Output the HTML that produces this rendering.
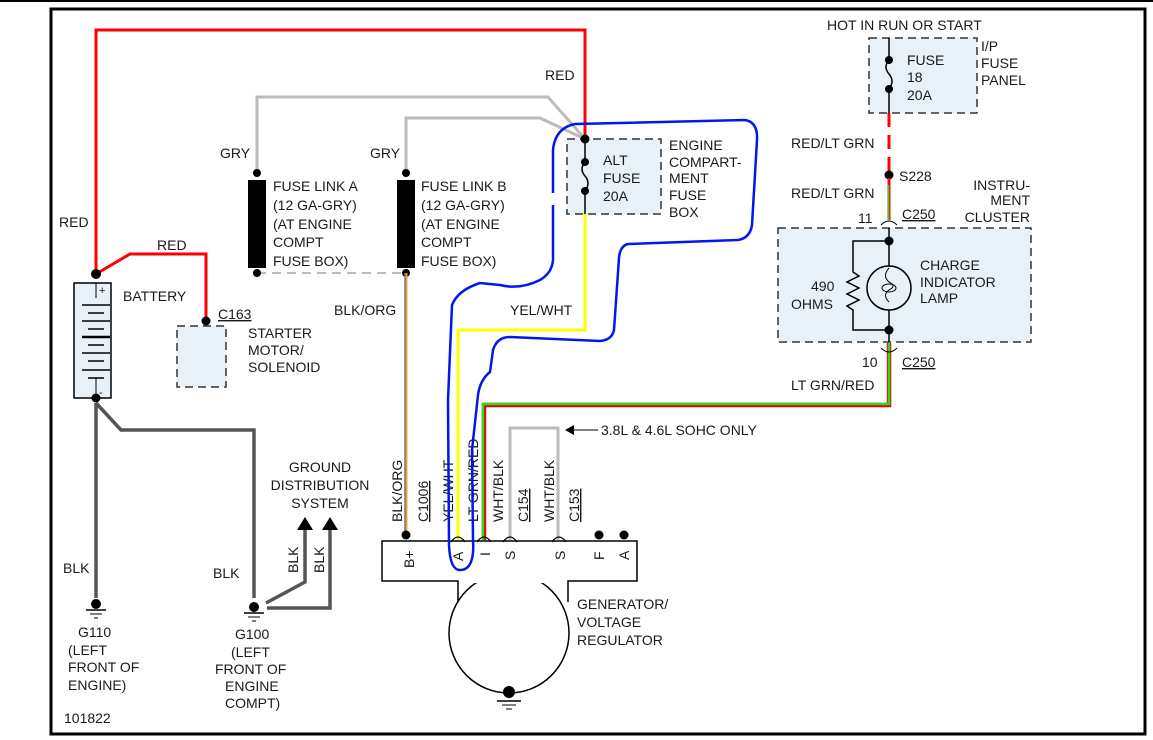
<!DOCTYPE html>
<html><head><meta charset="utf-8"><style>
html,body{margin:0;padding:0;background:#fff;}
svg{display:block;}
text{font-family:"Liberation Sans",sans-serif;font-size:14px;fill:#1a1a1a;}
</style></head><body>
<svg width="1153" height="740" viewBox="0 0 1153 740" xmlns="http://www.w3.org/2000/svg">
<rect x="0" y="0" width="1153" height="740" fill="#fff"/>
<line x1="0" y1="1" x2="1153" y2="1" stroke="#000" stroke-width="2"/>
<rect x="51" y="9" width="1094" height="725" fill="none" stroke="#000" stroke-width="3"/>

<!-- Red wires -->
<polyline points="96,274 96,30 585,30 585,139" fill="none" stroke="#f00" stroke-width="3"/>
<polyline points="96,274 130,254 206,254 206,320" fill="none" stroke="#f00" stroke-width="3"/>
<text x="545" y="80">RED</text>
<text x="59" y="227">RED</text>
<text x="157" y="250">RED</text>

<!-- Gray wires -->
<polyline points="257,173 257,97 548,97 585,139" fill="none" stroke="#bbb" stroke-width="3"/>
<polyline points="406,173 406,118 540,118 585,139" fill="none" stroke="#bbb" stroke-width="3"/>
<line x1="257" y1="273" x2="406" y2="273" stroke="#bbb" stroke-width="2" stroke-dasharray="9,6"/>
<text x="220" y="158">GRY</text>
<text x="370" y="158">GRY</text>

<!-- fuse links -->
<rect x="248" y="180" width="18" height="88" fill="#000"/>
<rect x="397" y="180" width="18" height="88" fill="#000"/>
<circle cx="257" cy="173" r="4" fill="#000"/><circle cx="257" cy="273" r="4" fill="#000"/>
<circle cx="406" cy="173" r="4" fill="#000"/><circle cx="406" cy="273" r="4" fill="#000"/>
<text x="273" y="191">FUSE LINK A</text><text x="273" y="210">(12 GA-GRY)</text><text x="273" y="229">(AT ENGINE</text><text x="273" y="247">COMPT</text><text x="273" y="266">FUSE BOX)</text>
<text x="421" y="191">FUSE LINK B</text><text x="421" y="210">(12 GA-GRY)</text><text x="421" y="229">(AT ENGINE</text><text x="421" y="247">COMPT</text><text x="421" y="266">FUSE BOX)</text>

<!-- BLK/ORG -->
<line x1="406" y1="273" x2="406" y2="537" stroke="#f0a040" stroke-width="3"/>
<line x1="405" y1="273" x2="405" y2="537" stroke="#777" stroke-width="1.5"/>
<text x="334" y="315">BLK/ORG</text>

<!-- battery -->
<rect x="74" y="283" width="37" height="115" fill="#e8f1f8" stroke="#000" stroke-width="1.5"/>
<line x1="96" y1="283" x2="96" y2="298" stroke="#000"/>
<g stroke="#000" stroke-width="1.5">
<line x1="82" y1="305" x2="110" y2="305"/><line x1="88" y1="313" x2="104" y2="313"/>
<line x1="82" y1="321" x2="110" y2="321"/><line x1="88" y1="329" x2="104" y2="329"/>
<line x1="82" y1="337" x2="110" y2="337" stroke-width="2.5"/><line x1="88" y1="345" x2="104" y2="345"/>
<line x1="82" y1="353" x2="110" y2="353"/><line x1="88" y1="361" x2="104" y2="361"/>
<line x1="82" y1="370" x2="110" y2="370"/><line x1="88" y1="378" x2="104" y2="378"/>
</g>
<line x1="96" y1="378" x2="96" y2="398" stroke="#000"/>
<text x="99" y="294" style="font-size:11px">+</text><text x="99" y="396" style="font-size:11px">-</text>
<circle cx="96" cy="274" r="5" fill="#000"/>
<text x="123" y="301">BATTERY</text>

<!-- starter -->
<rect x="177" y="326" width="49" height="61" fill="#e8f1f8" stroke="#333" stroke-width="1.5" stroke-dasharray="8,5"/>
<circle cx="206" cy="321" r="4.5" fill="#000"/>
<text x="218" y="319" text-decoration="underline">C163</text>
<text x="248" y="338">STARTER</text><text x="248" y="355">MOTOR/</text><text x="248" y="372">SOLENOID</text>

<!-- alt fuse box -->
<rect x="567" y="139" width="94" height="75" fill="#e8f1f8" stroke="#333" stroke-width="1.5" stroke-dasharray="8,5"/>
<line x1="585" y1="139" x2="585" y2="162" stroke="#000" stroke-width="1.5"/>
<path d="M585,162 q-6,7 0,14 q6,7 0,15" fill="none" stroke="#000" stroke-width="1.5"/>
<line x1="585" y1="191" x2="585" y2="214" stroke="#000" stroke-width="1.5"/>
<circle cx="585" cy="139" r="4.5" fill="#000"/><circle cx="585" cy="162" r="4" fill="#000"/><circle cx="585" cy="191" r="4" fill="#000"/>
<text x="603" y="165">ALT</text><text x="603" y="183">FUSE</text><text x="603" y="201">20A</text>
<text x="669" y="150">ENGINE</text><text x="669" y="167">COMPART-</text><text x="669" y="183">MENT</text><text x="669" y="200">FUSE</text><text x="669" y="217">BOX</text>

<!-- yellow -->
<polyline points="585,214 585,330 458,330 458,540" fill="none" stroke="#ff0" stroke-width="3"/>
<text x="510" y="315">YEL/WHT</text>

<!-- green with red -->
<polyline points="889,343 889,405 484,405 484,540" fill="none" stroke="#e00" stroke-width="4.5"/>
<polyline points="889,343 889,404 483,404 483,540" fill="none" stroke="#2d2" stroke-width="2.5"/>
<text x="791" y="390">LT GRN/RED</text>

<!-- S wires -->
<polyline points="510,540 510,428 558,428 558,540" fill="none" stroke="#bbb" stroke-width="3"/>
<line x1="572" y1="430" x2="598" y2="430" stroke="#000"/>
<polygon points="565,430 574,425 574,435" fill="#000"/>
<text x="601" y="435">3.8L &amp; 4.6L SOHC ONLY</text>

<!-- generator -->
<circle cx="509" cy="633" r="60" fill="#fff" stroke="#000" stroke-width="1.5"/>
<rect x="383" y="542" width="253" height="39" fill="#fff"/>
<rect x="459" y="575" width="108" height="8" fill="#fff"/>
<path d="M458,602 L458,581 L382,581 L382,541 L637,541 L637,581 L568,581 L568,602" fill="none" stroke="#000" stroke-width="1.5"/>
<circle cx="509" cy="692" r="6" fill="#000"/>
<line x1="497" y1="701" x2="521" y2="701" stroke="#000" stroke-width="1.5"/>
<line x1="502" y1="705" x2="516" y2="705" stroke="#000"/><line x1="506" y1="709" x2="512" y2="709" stroke="#000"/>
<circle cx="406" cy="535" r="4.5" fill="#000"/><circle cx="599" cy="535" r="4.5" fill="#000"/><circle cx="624" cy="535" r="4.5" fill="#000"/>
<g fill="none" stroke="#000" stroke-width="1.2">
<path d="M451,542 q7,-10 14,0"/><path d="M477,542 q7,-10 14,0"/><path d="M503,542 q7,-10 14,0"/><path d="M552,542 q7,-10 14,0"/>
</g>
<g style="font-size:13px">
<text transform="translate(414,568) rotate(-90)">B+</text>
<text transform="translate(463,561) rotate(-90)">A</text>
<text transform="translate(490,556) rotate(-90)">I</text>
<text transform="translate(515,560) rotate(-90)">S</text>
<text transform="translate(565,560) rotate(-90)">S</text>
<text transform="translate(604,560) rotate(-90)">F</text>
<text transform="translate(629,560) rotate(-90)">A</text>
</g>
<text transform="translate(402,522) rotate(-90)">BLK/ORG</text>
<text transform="translate(428,522) rotate(-90)" text-decoration="underline">C1006</text>
<text transform="translate(453,522) rotate(-90)">YEL/WHT</text>
<text transform="translate(478,522) rotate(-90)">LT GRN/RED</text>
<text transform="translate(503,522) rotate(-90)">WHT/BLK</text>
<text transform="translate(528,522) rotate(-90)" text-decoration="underline">C154</text>
<text transform="translate(554,522) rotate(-90)">WHT/BLK</text>
<text transform="translate(579,522) rotate(-90)" text-decoration="underline">C153</text>
<text x="577" y="609">GENERATOR/</text><text x="577" y="627">VOLTAGE</text><text x="577" y="645">REGULATOR</text>

<!-- grounds -->
<g stroke="#555" stroke-width="3.5" fill="none">
<line x1="96" y1="403" x2="96" y2="598"/>
<polyline points="96,403 121,430 254,430 254,598"/>
<polyline points="266,603 305,582 305,528"/>
<polyline points="267,608 330,608 330,528"/>
</g>
<circle cx="96" cy="398" r="4.5" fill="#000"/>
<polygon points="297,530 313,530 305,517" fill="#000"/>
<polygon points="322,530 338,530 330,517" fill="#000"/>
<text x="320" y="472" text-anchor="middle">GROUND</text><text x="320" y="490" text-anchor="middle">DISTRIBUTION</text><text x="320" y="508" text-anchor="middle">SYSTEM</text>
<text transform="translate(298,573) rotate(-90)">BLK</text>
<text transform="translate(324,573) rotate(-90)">BLK</text>
<text x="63" y="573">BLK</text><text x="213" y="578">BLK</text>
<circle cx="96" cy="604" r="5" fill="#000"/>
<line x1="86" y1="610" x2="106" y2="610" stroke="#000" stroke-width="1.5"/><line x1="90" y1="614" x2="102" y2="614" stroke="#000"/><line x1="94" y1="618" x2="98" y2="618" stroke="#000"/>
<circle cx="254" cy="607" r="5" fill="#000"/>
<line x1="244" y1="613" x2="264" y2="613" stroke="#000" stroke-width="1.5"/><line x1="248" y1="617" x2="260" y2="617" stroke="#000"/><line x1="252" y1="621" x2="256" y2="621" stroke="#000"/>
<text x="78" y="637">G110</text><text x="68" y="655">(LEFT</text><text x="68" y="672">FRONT OF</text><text x="68" y="690">ENGINE)</text>
<text x="235" y="639">G100</text><text x="231" y="657">(LEFT</text><text x="215" y="674">FRONT OF</text><text x="225" y="691">ENGINE</text><text x="225" y="708">COMPT)</text>
<text x="64" y="723">101822</text>

<!-- I/P fuse -->
<text x="827" y="30">HOT IN RUN OR START</text>
<rect x="869" y="38" width="108" height="75" fill="#e8f1f8" stroke="#333" stroke-width="1.5" stroke-dasharray="8,5"/>
<line x1="889" y1="38" x2="889" y2="60" stroke="#000" stroke-width="1.5"/>
<path d="M889,60 q-6,7 0,14 q6,7 0,15" fill="none" stroke="#000" stroke-width="1.5"/>
<line x1="889" y1="89" x2="889" y2="113" stroke="#000" stroke-width="1.5"/>
<circle cx="889" cy="60" r="4" fill="#000"/><circle cx="889" cy="89" r="4" fill="#000"/>
<text x="907" y="65">FUSE</text><text x="907" y="82">18</text><text x="907" y="100">20A</text>
<text x="981" y="51">I/P</text><text x="981" y="68">FUSE</text><text x="981" y="85">PANEL</text>
<line x1="889" y1="113" x2="889" y2="172" stroke="#f00" stroke-width="3" stroke-dasharray="14,8"/>
<text x="791" y="148">RED/LT GRN</text>
<circle cx="889" cy="175" r="4.5" fill="#000"/><text x="899" y="181">S228</text>
<text x="791" y="198">RED/LT GRN</text>
<line x1="889" y1="178" x2="889" y2="220" stroke="#f00" stroke-width="3"/>
<line x1="888.5" y1="185" x2="888.5" y2="220" stroke="#2d2" stroke-width="1.5"/>
<text x="858" y="223">11</text><text x="902" y="219" text-decoration="underline">C250</text>
<path d="M881,225 q8,-8 16,0" fill="none" stroke="#000"/>
<text x="1030" y="190" text-anchor="end">INSTRU-</text><text x="1030" y="205" text-anchor="end">MENT</text><text x="1030" y="222" text-anchor="end">CLUSTER</text>
<rect x="778" y="228" width="253" height="114" fill="#e8f1f8" stroke="#333" stroke-width="1.5" stroke-dasharray="8,5"/>
<line x1="889" y1="228" x2="889" y2="266" stroke="#000" stroke-width="1.5"/>
<line x1="889" y1="310" x2="889" y2="342" stroke="#000" stroke-width="1.5"/>
<polyline points="889,241 853,241 853,272 859,276 847,282 859,288 847,294 859,300 847,306 853,310 853,330 889,330" fill="none" stroke="#000" stroke-width="1.5"/>
<circle cx="889" cy="288" r="22" fill="none" stroke="#000" stroke-width="1.5"/>
<path d="M889,268 q-7,8 0,14 q8,4 0,8 q-7,5 0,12" fill="none" stroke="#000"/>
<ellipse cx="889" cy="288" rx="7" ry="4" fill="none" stroke="#000"/>
<circle cx="889" cy="241" r="4.5" fill="#000"/><circle cx="889" cy="330" r="4.5" fill="#000"/>
<text x="920" y="270">CHARGE</text><text x="920" y="287">INDICATOR</text><text x="920" y="303">LAMP</text>
<text x="811" y="291">490</text><text x="791" y="309">OHMS</text>
<path d="M881,348 q8,8 16,0" fill="none" stroke="#000"/>
<text x="862" y="367">10</text><text x="902" y="367" text-decoration="underline">C250</text>

<!-- blue hand drawn -->
<path d="M553,193 L553,150 Q555,128 575,124 L745,120 Q758,122 757,140 L752,225 Q750,238 738,240 L628,244 Q620,246 619,258 L614,330 Q612,340 600,341 L510,337 Q497,337 493,350 L490,372 Q480,380 478,395 L472,450 L473,540 Q475,570 460,570 Q450,570 449,545 L448,400 L452,305 Q458,290 480,283 L500,285 Q520,290 540,280 Q552,273 553,260 L553,205" fill="none" stroke="#0018f0" stroke-width="2.5"/>
</svg>
</body></html>
